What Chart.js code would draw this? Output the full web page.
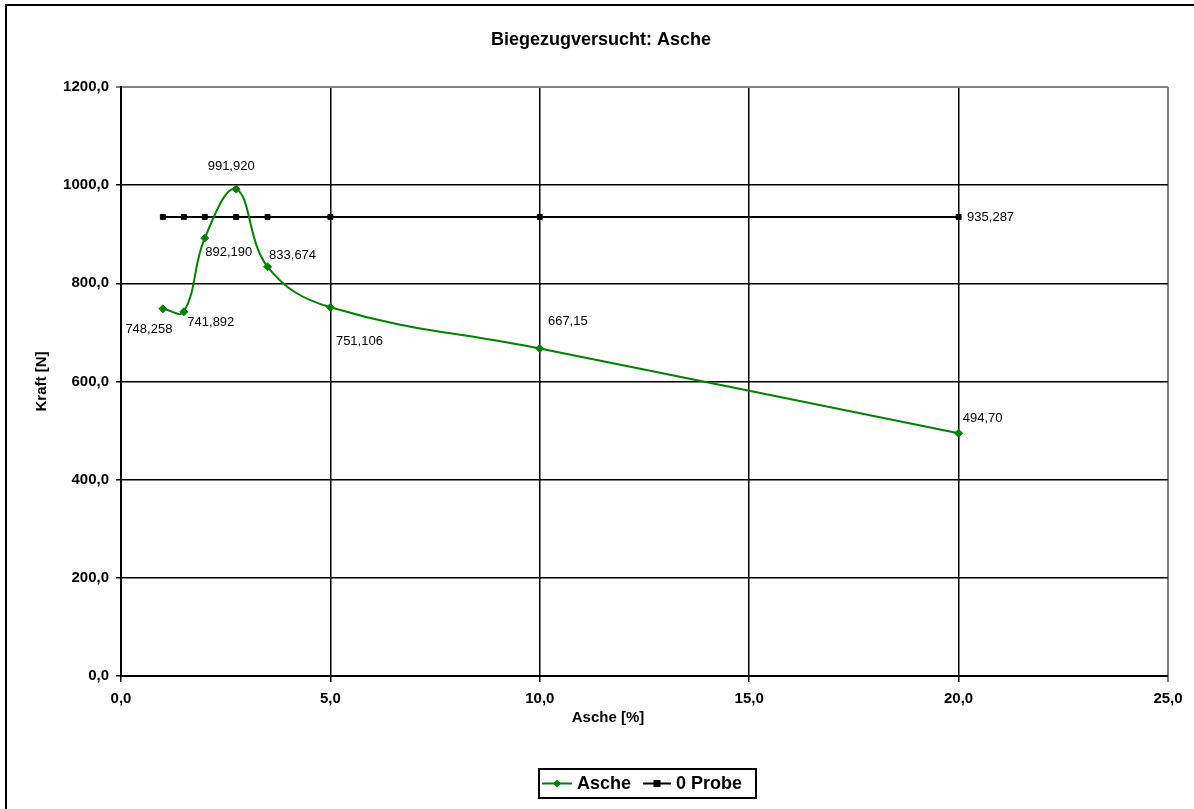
<!DOCTYPE html>
<html>
<head>
<meta charset="utf-8">
<title>Biegezugversucht: Asche</title>
<script src="https://cdn.jsdelivr.net/npm/chart.js@4/dist/chart.umd.min.js"></script>
<style>
  html, body { margin: 0; padding: 0; background: #fff; }
  canvas { display: block; }
</style>
</head>
<body>
<canvas id="chart" width="1194" height="809"></canvas>
<script>
// Ash content [%] and measured bending force [N]
const aschePct = [1, 1.5, 2, 2.75, 3.5, 5, 10, 20];
const ascheKraft = [748.258, 741.892, 892.19, 991.92, 833.674, 751.106, 667.15, 494.7];
const ascheDecimals = [3, 3, 3, 3, 3, 3, 2, 2];

// Reference sample without ash
const probePct = [1, 1.5, 2, 2.75, 3.5, 5, 10, 20];
const probeKraft = [935.287, 935.287, 935.287, 935.287, 935.287, 935.287, 935.287, 935.287];
const probeDecimals = 3;

// Axis ranges and tick steps
const xRange = { min: 0, max: 25, step: 5 };
const yRange = { min: 0, max: 1200, step: 200 };

const titleText = 'Biegezugversucht: Asche';
const xTitle = 'Asche [%]';
const yTitle = 'Kraft [N]';
const seriesNames = ['Asche', '0 Probe'];

const GREEN = '#008000';
const FONT = '"Liberation Sans", Arial, Helvetica, sans-serif';

const fmt = (v, d) => v.toFixed(d).replace('.', ',');

const toXY = (xs, ys) => xs.map((x, i) => ({ x: x, y: ys[i] }));

// Frame, titles, value labels and legend
const decorPlugin = {
  id: 'decor',
  beforeDraw(chart) {
    const c = chart.ctx;
    c.save();
    c.fillStyle = '#fff';
    c.fillRect(0, 0, chart.width, chart.height);
    c.strokeStyle = '#000';
    c.lineWidth = 2;
    c.strokeRect(6, 5, chart.width + 20, chart.height + 20);
    c.restore();
  },
  afterDatasetsDraw(chart, args, opts) {
    const c = chart.ctx;
    c.save();
    c.fillStyle = '#000';
    c.font = '13px ' + FONT;
    c.textAlign = 'center';
    c.textBaseline = 'middle';
    const m0 = chart.getDatasetMeta(0);
    m0.data.forEach((pt, i) => {
      const o = opts.ascheOffsets[i];
      c.fillText(fmt(ascheKraft[i], ascheDecimals[i]), pt.x + o[0], pt.y + o[1]);
    });
    const m1 = chart.getDatasetMeta(1);
    const last = m1.data.length - 1;
    const lp = m1.data[last];
    c.fillText(fmt(probeKraft[last], probeDecimals), lp.x + opts.probeOffset[0], lp.y + opts.probeOffset[1]);
    c.restore();
  },
  afterDraw(chart, args, opts) {
    const c = chart.ctx;
    const a = chart.chartArea;
    c.save();
    c.fillStyle = '#000';
    c.textAlign = 'center';
    c.textBaseline = 'middle';

    // chart title
    c.font = 'bold 18px ' + FONT;
    c.fillText(titleText, 601, 40);

    // axis titles
    c.font = 'bold 15px ' + FONT;
    c.fillText(xTitle, 608, 718);
    c.save();
    c.translate(42, (a.top + a.bottom) / 2);
    c.rotate(-Math.PI / 2);
    c.fillText(yTitle, 0, 0);
    c.restore();

    // legend
    const lx = 539, ly = 769, lw = 217, lh = 29;
    c.strokeStyle = '#000';
    c.lineWidth = 2;
    c.strokeRect(lx, ly, lw, lh);
    const cy = ly + lh / 2;
    c.font = 'bold 18px ' + FONT;
    c.textAlign = 'left';

    c.strokeStyle = GREEN;
    c.lineWidth = 2;
    c.beginPath(); c.moveTo(542, cy); c.lineTo(572, cy); c.stroke();
    c.fillStyle = GREEN;
    c.beginPath();
    c.moveTo(557, cy - 4); c.lineTo(561, cy); c.lineTo(557, cy + 4); c.lineTo(553, cy);
    c.closePath(); c.fill();
    c.fillStyle = '#000';
    c.fillText(seriesNames[0], 577, cy + 1);

    c.strokeStyle = '#000';
    c.beginPath(); c.moveTo(643, cy); c.lineTo(671, cy); c.stroke();
    c.fillRect(653.5, cy - 3.5, 7, 7);
    c.fillText(seriesNames[1], 676, cy + 1);
    c.restore();
  }
};

const ctx = document.getElementById('chart').getContext('2d');
new Chart(ctx, {
  type: 'line',
  data: {
    datasets: [
      {
        label: seriesNames[0],
        data: toXY(aschePct, ascheKraft),
        borderColor: GREEN,
        backgroundColor: GREEN,
        borderWidth: 2,
        tension: 0.4,
        pointStyle: 'rectRot',
        pointRadius: 4,
        pointBorderWidth: 1,
        fill: false
      },
      {
        label: seriesNames[1],
        data: toXY(probePct, probeKraft),
        borderColor: '#000',
        backgroundColor: '#000',
        borderWidth: 2,
        tension: 0,
        pointStyle: 'rect',
        pointRadius: 3.5,
        pointBorderWidth: 1,
        fill: false
      }
    ]
  },
  options: {
    responsive: false,
    animation: false,
    devicePixelRatio: 1,
    layout: { padding: { left: 0, right: 26, top: 87, bottom: 0 } },
    plugins: {
      legend: { display: false },
      title: { display: false },
      tooltip: { enabled: false },
      decor: {
        ascheOffsets: [[-14, 21], [27, 11], [24, 14], [-5, -23], [25, -11], [29, 34], [28, -27], [24, -15]],
        probeOffset: [32, 0]
      }
    },
    scales: {
      x: {
        type: 'linear',
        min: xRange.min,
        max: xRange.max,
        afterFit(scale) { scale.height = 133; },
        ticks: {
          stepSize: xRange.step,
          color: '#000',
          font: { family: FONT, size: 15, weight: 'bold' },
          padding: 8,
          maxRotation: 0,
          callback: (v) => fmt(v, 1)
        },
        grid: {
          color: (c) => (c.tick && c.tick.value === xRange.max ? '#808080' : '#000'),
          lineWidth: (c) => (c.tick && c.tick.value === xRange.max ? 2 : 1.5),
          tickLength: 6,
          drawTicks: true
        },
        border: { color: '#000', width: 2 }
      },
      y: {
        type: 'linear',
        min: yRange.min,
        max: yRange.max,
        afterFit(scale) { scale.width = 121; },
        ticks: {
          stepSize: yRange.step,
          color: '#000',
          font: { family: FONT, size: 15, weight: 'bold' },
          padding: 7,
          callback: (v) => fmt(v, 1)
        },
        grid: {
          color: (c) => (c.tick && c.tick.value === yRange.max ? '#808080' : '#000'),
          lineWidth: (c) => (c.tick && c.tick.value === yRange.max ? 2 : 1.5),
          tickLength: 5,
          drawTicks: true
        },
        border: { color: '#000', width: 2 }
      }
    }
  },
  plugins: [decorPlugin]
});
</script>
</body>
</html>
